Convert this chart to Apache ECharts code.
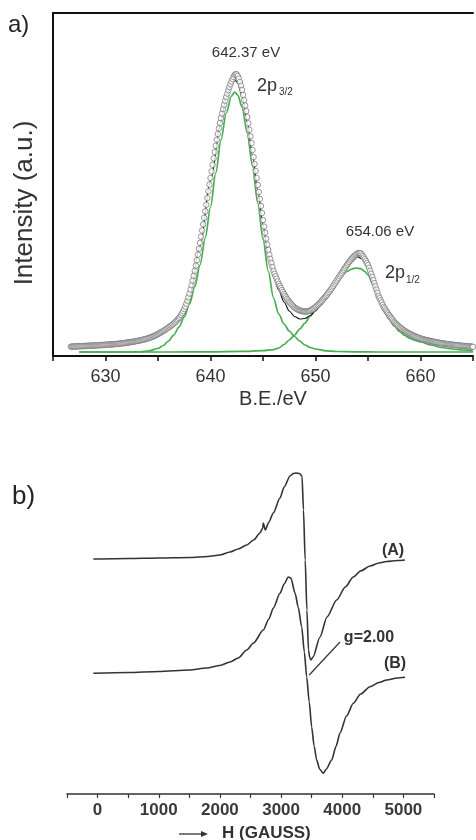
<!DOCTYPE html>
<html style="height: 100%">
<head>
    <meta charset="utf-8">
    <script src="https://cdn.jsdelivr.net/npm/echarts@6/dist/echarts.min.js"></script>
</head>
<body style="height: 100%; margin: 0; background: #fff">
<div id="container" style="width: 476px; height: 840px"></div>

<script type="text/javascript">
    // panel a: XPS, measured points (one every 0.1 eV from 626.7 eV)
    var expStart = 626.7, expStep = 0.1;
    var expIntensity = [
        9.3, 9.4, 9.4, 9.5,
        9.5, 9.6, 9.6, 9.7, 9.7, 9.8, 9.8, 9.9, 9.9, 10.0,
        10.1, 10.1, 10.2, 10.2, 10.3, 10.3, 10.4, 10.5, 10.5, 10.6,
        10.6, 10.7, 10.7, 10.8, 10.9, 10.9, 11.0, 11.0, 11.1, 11.2,
        11.3, 11.3, 11.4, 11.5, 11.6, 11.6, 11.7, 11.8, 11.9, 12.0,
        12.1, 12.2, 12.3, 12.4, 12.6, 12.7, 12.8, 12.9, 13.1, 13.3,
        13.4, 13.6, 13.7, 13.9, 14.1, 14.2, 14.4, 14.6, 14.8, 15.0,
        15.2, 15.4, 15.6, 15.9, 16.1, 16.4, 16.6, 16.9, 17.2, 17.5,
        17.8, 18.2, 18.6, 19.0, 19.5, 19.9, 20.4, 20.9, 21.4, 22.0,
        22.6, 23.2, 23.8, 24.4, 25.0, 25.7, 26.4, 27.0, 27.8, 28.5,
        29.2, 30.0, 30.8, 31.6, 32.5, 33.5, 34.5, 35.6, 36.8, 38.0,
        39.4, 41.0, 42.8, 44.8, 47.0, 49.5, 52.3, 55.4, 58.8, 62.5,
        66.5, 70.8, 75.4, 80.2, 85.2, 90.4, 95.8, 101.4, 107.2, 113.2,
        119.3, 125.5, 131.8, 138.2, 144.7, 151.3, 158, 164.7, 171.4, 178,
        184.6, 191.2, 197.7, 204, 210.2, 216.2, 222, 227.6, 233, 238,
        242.5, 247, 251.2, 255.2, 259, 262.5, 265.8, 268.9, 271.8, 274.5,
        277, 279.2, 281, 282, 281.5, 280, 277.5, 274, 270.3, 266,
        261, 255.8, 250.5, 245, 239, 232.7, 226.3, 219.7, 213, 206,
        199, 192, 185, 178, 171, 164, 157, 150, 143, 136,
        129.5, 123.3, 117.3, 111.5, 106, 101.3, 97, 93, 89, 85,
        82.2, 79.6, 77.2, 74.6, 72, 70, 68, 66, 64, 62,
        60.3, 58.6, 57, 55.5, 54, 52.8, 51.6, 50.5, 49.5, 48.5,
        47.8, 47.1, 46.5, 46, 45.5, 45.2, 44.9, 44.7, 44.6, 44.5,
        44.5, 44.6, 44.8, 45.1, 45.5, 46, 46.6, 47.3, 48.1, 49,
        49.9, 50.9, 51.9, 52.9, 54, 55.2, 56.4, 57.6, 58.8, 60,
        61.4, 62.8, 64.2, 65.6, 67, 68.6, 70.2, 71.8, 73.4, 75,
        76.6, 78.2, 79.8, 81.4, 83, 84.6, 86.2, 87.8, 89.4, 91,
        92.5, 94, 95.4, 96.7, 98, 99.1, 100.1, 101, 101.8, 102.5,
        102.9, 103, 102.8, 101.5, 100, 98.5, 96.8, 95, 93, 91,
        88.2, 85.2, 82.2, 79.2, 76, 72.8, 69.6, 66.4, 63.2, 60,
        57.8, 55.6, 53.5, 51.2, 49, 47.4, 45.7, 44.1, 42.5, 41,
        39.6, 38.2, 36.8, 35.4, 34, 33, 32, 31, 30, 29,
        28.2, 27.4, 26.6, 25.8, 25, 24.4, 23.8, 23.2, 22.6, 22,
        21.5, 21, 20.5, 20, 19.5, 19.1, 18.7, 18.3, 17.9, 17.5,
        17.2, 16.9, 16.6, 16.3, 16.1, 15.8, 15.6, 15.3, 15.1, 14.8,
        14.6, 14.4, 14.2, 14, 13.8, 13.6, 13.4, 13.2, 13, 12.8,
        12.6, 12.5, 12.3, 12.2, 12, 11.9, 11.7, 11.6, 11.4, 11.3,
        11.2, 11.1, 11, 10.8, 10.7, 10.6, 10.5, 10.4, 10.2, 10.1,
        10, 9.9, 9.8, 9.8, 9.7, 9.6, 9.5, 9.4, 9.3, 9.2
    ];

    // fitted components (green) and envelope (black)
    var comp1BE = [627.5, 630, 632, 633, 634, 635, 635.5, 636, 636.5, 637, 637.5, 638, 638.5, 639, 639.5, 640, 640.5, 641, 641.5, 642,
        642.3, 642.6, 643, 643.5, 644, 644.5, 645, 645.5, 646, 646.5, 647, 647.5, 648, 648.5, 649, 649.5, 650, 651, 652, 654, 656, 665];
    var comp1Int = [4, 4, 4, 4.1, 4.8, 7.5, 10.5, 15, 21, 29, 39, 52, 69, 91, 118, 149, 183, 216, 243, 260,
        264, 261, 249, 223, 190, 153, 117, 85, 58, 42, 32, 25, 19.5, 15, 11, 8.5, 7, 5.2, 4.5, 4.1, 4, 4];

    var comp2BE = [627.5, 636, 640, 643, 645, 646, 646.5, 647, 647.5, 648, 648.5, 649, 649.5, 650, 650.5, 651, 651.5, 652, 652.5, 653,
        653.5, 653.9, 654.3, 654.7, 655, 655.5, 656, 656.5, 657, 657.5, 658, 658.5, 659, 659.5, 660, 661, 662, 663, 664, 665];
    var comp2Int = [4, 4, 4.2, 4.6, 5.3, 6.3, 8, 11.5, 16, 21, 27, 33, 40, 47, 54, 61, 68, 75, 80.5, 84.5,
        87.2, 88, 87.3, 84.5, 81, 71, 56, 45.5, 37, 30, 24.5, 20.5, 17.5, 15.5, 14, 11, 8.5, 7, 6, 5];

    var fitBE = [636, 637, 638, 639, 640, 641, 641.5, 642, 642.3, 642.6, 643, 643.5, 644, 644.5, 645, 645.5, 646, 646.5, 647, 647.5,
        648, 648.5, 649, 649.5, 650, 650.5, 651, 652, 653, 653.5, 654, 654.5, 655, 655.5, 656, 657, 658, 659, 660];
    var fitInt = [26, 36, 60, 110, 175, 235, 258, 272, 276, 273, 261, 234, 201, 166, 131, 101, 80, 66, 54, 45,
        39.5, 37, 37.5, 40.5, 45, 51, 58, 73, 88, 95, 99, 97, 88, 73, 58, 40, 28, 21, 17];

    var beTicks = [630, 640, 650, 660];

    // panel b: EPR spectra
    var aField = [-70, 500, 1000, 1500, 1800, 2000, 2165, 2300, 2438, 2550, 2655, 2700, 2709, 2742, 2800, 2873, 2982, 3050, 3146, 3200,
        3244, 3300, 3342, 3366, 3394, 3422, 3448, 3470, 3490, 3522, 3636, 3750, 3909, 4050, 4181, 4300, 4454, 4600, 4727, 4900, 5026];
    var aSignal = [235, 235.5, 236, 236.5, 237.5, 239, 242, 245, 249, 254, 261, 266, 271, 264, 272, 281, 296, 307, 318, 320.5,
        321, 320.5, 318, 284, 234, 184, 144, 136, 134, 137, 157, 177, 194, 207, 217, 223, 228, 231, 232.5, 233.5, 234];

    var bField = [-70, 500, 1000, 1500, 1784, 2000, 2165, 2300, 2438, 2550, 2709, 2800, 2873, 2982, 3050, 3118, 3160, 3228, 3280, 3337,
        3380, 3419, 3460, 3500, 3540, 3582, 3630, 3690, 3740, 3827, 3900, 3963, 4070, 4181, 4300, 4454, 4600, 4727, 4900, 5026];
    var bSignal = [120.7, 121.5, 122.5, 124, 126, 128.5, 132, 136, 144, 151, 164, 175, 186, 200.7, 210, 217, 216, 201, 187, 167,
        142, 117, 92, 67, 48, 34, 25, 20.7, 25, 34, 48, 61, 78, 90.7, 100, 107.3, 111.5, 114, 116, 116.7];

    var fieldTicks = [0, 1000, 2000, 3000, 4000, 5000];

    function pairs(xs, ys) {
        return xs.map(function (x, i) { return [x, ys[i]]; });
    }
    var expData = expIntensity.map(function (v, i) {
        return [+(expStart + i * expStep).toFixed(1), v];
    });

    var font = '"Liberation Sans", Arial, sans-serif';
    var green = '#46ae4e';

    var dom = document.getElementById("container");
    var myChart = echarts.init(dom, null, {renderer: 'canvas'});
    var option = {
        animation: false,
        backgroundColor: '#fff',
        grid: [
            {left: 53, top: 13, width: 423, height: 343},
            {left: 67, top: 440, width: 367, height: 354}
        ],
        xAxis: [
            {
                gridIndex: 0, type: 'value', min: 625, max: 665, interval: 5,
                axisLine: {lineStyle: {color: '#111', width: 2}},
                axisTick: {length: 5, lineStyle: {color: '#111', width: 1.5}},
                axisLabel: {
                    margin: 12, fontSize: 18, color: '#333', fontFamily: font,
                    formatter: function (v) { return beTicks.indexOf(v) >= 0 ? v : ''; }
                },
                splitLine: {show: false}
            },
            {
                gridIndex: 0, type: 'value', position: 'top', min: 625, max: 665,
                axisLine: {lineStyle: {color: '#111', width: 2}},
                axisTick: {show: false}, axisLabel: {show: false}, splitLine: {show: false}
            },
            {
                gridIndex: 1, type: 'value', min: -500, max: 5500, interval: 500,
                axisLine: {lineStyle: {color: '#333', width: 1.5}},
                axisTick: {length: 4, lineStyle: {color: '#333', width: 1.2}},
                axisLabel: {
                    margin: 8, fontSize: 17, fontWeight: 'bold', color: '#3a3a3a', fontFamily: font,
                    formatter: function (v) { return fieldTicks.indexOf(v) >= 0 ? v : ''; }
                },
                splitLine: {show: false}
            }
        ],
        yAxis: [
            {
                gridIndex: 0, type: 'value', min: 0, max: 343,
                axisLine: {show: true, lineStyle: {color: '#111', width: 2}},
                axisTick: {show: false}, axisLabel: {show: false}, splitLine: {show: false}
            },
            {gridIndex: 1, type: 'value', min: 0, max: 354, show: false}
        ],
        series: [
            {
                name: 'comp1', type: 'line', xAxisIndex: 0, yAxisIndex: 0, data: pairs(comp1BE, comp1Int),
                showSymbol: false, smooth: 0.3, smoothMonotone: 'x', z: 2,
                lineStyle: {color: green, width: 1.7}
            },
            {
                name: 'comp2', type: 'line', xAxisIndex: 0, yAxisIndex: 0, data: pairs(comp2BE, comp2Int),
                showSymbol: false, smooth: 0.3, smoothMonotone: 'x', z: 2,
                lineStyle: {color: green, width: 1.7}
            },
            {
                name: 'fit', type: 'line', xAxisIndex: 0, yAxisIndex: 0, data: pairs(fitBE, fitInt),
                showSymbol: false, smooth: 0.3, smoothMonotone: 'x', z: 3,
                lineStyle: {color: '#1a1a1a', width: 1.2}
            },
            {
                name: 'exp', type: 'scatter', xAxisIndex: 0, yAxisIndex: 0, data: expData,
                symbol: 'circle', symbolSize: 5.5, z: 4,
                itemStyle: {color: '#fff', borderColor: '#707070', borderWidth: 0.9}
            },
            {
                name: 'A', type: 'line', xAxisIndex: 2, yAxisIndex: 1, data: pairs(aField, aSignal),
                showSymbol: false, smooth: 0.25, smoothMonotone: 'x',
                lineStyle: {color: '#333', width: 1.6}
            },
            {
                name: 'B', type: 'line', xAxisIndex: 2, yAxisIndex: 1, data: pairs(bField, bSignal),
                showSymbol: false, smooth: 0.25, smoothMonotone: 'x',
                lineStyle: {color: '#333', width: 1.6},
                markLine: {
                    silent: true, symbol: ['none', 'arrow'], symbolSize: [0, 7],
                    label: {show: false},
                    lineStyle: {color: '#333', width: 1.2, type: 'solid'},
                    data: [[{coord: [3963, 152]}, {coord: [3460, 119]}]]
                }
            }
        ],
        graphic: [
            {type: 'text', x: 8, y: 25, style: {text: 'a)', font: '24px ' + font, fill: '#222', textVerticalAlign: 'middle'}},
            {type: 'text', x: 25, y: 203, rotation: Math.PI / 2,
                style: {text: 'Intensity (a.u.)', font: '26px ' + font, fill: '#333', textAlign: 'center', textVerticalAlign: 'middle'}},
            {type: 'text', x: 273, y: 399, style: {text: 'B.E./eV', font: '20px ' + font, fill: '#333', textAlign: 'center', textVerticalAlign: 'middle'}},
            {type: 'text', x: 246, y: 53, style: {text: '642.37 eV', font: '15px ' + font, fill: '#333', textAlign: 'center', textVerticalAlign: 'middle'}},
            {type: 'text', x: 257, y: 86, style: {text: '2p', font: '18px ' + font, fill: '#333', textVerticalAlign: 'middle'}},
            {type: 'text', x: 279, y: 92, style: {text: '3/2', font: '10px ' + font, fill: '#333', textVerticalAlign: 'middle'}},
            {type: 'text', x: 380, y: 232, style: {text: '654.06 eV', font: '15px ' + font, fill: '#333', textAlign: 'center', textVerticalAlign: 'middle'}},
            {type: 'text', x: 385, y: 273, style: {text: '2p', font: '18px ' + font, fill: '#333', textVerticalAlign: 'middle'}},
            {type: 'text', x: 406, y: 280, style: {text: '1/2', font: '10px ' + font, fill: '#333', textVerticalAlign: 'middle'}},
            {type: 'text', x: 12, y: 497, style: {text: 'b)', font: '26px ' + font, fill: '#222', textVerticalAlign: 'middle'}},
            {type: 'text', x: 393, y: 551, style: {text: '(A)', font: 'bold 16px ' + font, fill: '#333', textAlign: 'center', textVerticalAlign: 'middle'}},
            {type: 'text', x: 395, y: 664, style: {text: '(B)', font: 'bold 16px ' + font, fill: '#333', textAlign: 'center', textVerticalAlign: 'middle'}},
            {type: 'text', x: 369, y: 638, style: {text: 'g=2.00', font: 'bold 16px ' + font, fill: '#333', textAlign: 'center', textVerticalAlign: 'middle'}},
            {type: 'line', shape: {x1: 179, y1: 834, x2: 205, y2: 834}, style: {stroke: '#333', lineWidth: 1.3}},
            {type: 'polygon', shape: {points: [[208, 834], [201, 831], [201, 837]]}, style: {fill: '#333'}},
            {type: 'text', x: 222, y: 833, style: {text: 'H (GAUSS)', font: 'bold 17px ' + font, fill: '#333', textVerticalAlign: 'middle'}}
        ]
    };
    myChart.setOption(option);
</script>
</body>
</html>
